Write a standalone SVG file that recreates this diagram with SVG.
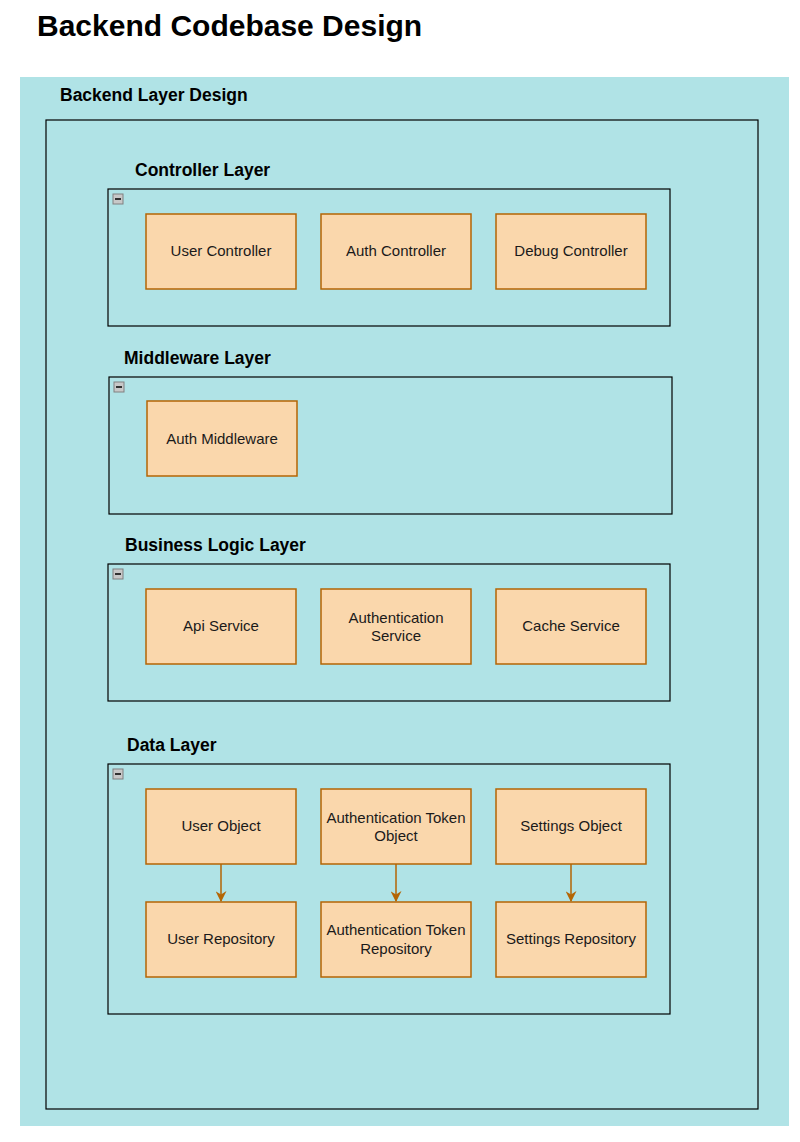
<svg xmlns="http://www.w3.org/2000/svg" width="800" height="1142" viewBox="0 0 800 1142">
<style>
.t{font-family:"Liberation Sans",Arial,sans-serif;fill:#000}
.h{font-weight:bold;font-size:17.5px}
.n rect{fill:#fad7ac;stroke:#b46504;stroke-width:1.5}
.n text{font-family:"Liberation Sans",Arial,sans-serif;font-size:15px;fill:#1a1a1a;text-anchor:middle}
.layer{fill:none;stroke:#000;stroke-width:1.2}
.icon{fill:#c8c8c8;stroke:#808080;stroke-width:1}
.conn path{stroke:#b46504;stroke-width:1.5;fill:none}
</style>
<defs>
<marker id="ah" viewBox="0 0 10 10" refX="9" refY="5" markerWidth="11" markerHeight="11" orient="auto" markerUnits="userSpaceOnUse">
<path d="M0,0 L10,5 L0,10 L3,5 Z" fill="#b46504"/>
</marker>
<g id="minus"><rect class="icon" x="0" y="0" width="10" height="10"/><line x1="2" y1="5" x2="8" y2="5" stroke="#000" stroke-width="1.5"/></g>
</defs>
<rect width="800" height="1142" fill="#fff"/>
<text class="t" x="37" y="36" font-size="30" font-weight="bold">Backend Codebase Design</text>
<g id="backend-layer-design">
<rect x="20" y="77" width="769" height="1049" fill="#b0e3e6"/>
<text class="t h" x="60" y="101">Backend Layer Design</text>
<rect x="46" y="120" width="712" height="989" fill="none" stroke="#000" stroke-width="1.2"/>
</g>
<g id="controller-layer">
<text class="t h" x="135" y="176">Controller Layer</text>
<rect class="layer" x="108" y="189" width="562" height="137"/>
<use href="#minus" x="113" y="194"/>
</g>
<g id="middleware-layer">
<text class="t h" x="124" y="364">Middleware Layer</text>
<rect class="layer" x="109" y="377" width="563" height="137"/>
<use href="#minus" x="114" y="382"/>
</g>
<g id="business-layer">
<text class="t h" x="125" y="551">Business Logic Layer</text>
<rect class="layer" x="108" y="564" width="562" height="137"/>
<use href="#minus" x="113" y="569"/>
</g>
<g id="data-layer">
<text class="t h" x="127" y="751">Data Layer</text>
<rect class="layer" x="108" y="764" width="562" height="250"/>
<use href="#minus" x="113" y="769"/>
</g>
<g id="user-controller" class="n"><rect x="146" y="214" width="150" height="75"/><text x="221" y="256">User Controller</text></g>
<g id="auth-controller" class="n"><rect x="321" y="214" width="150" height="75"/><text x="396" y="256">Auth Controller</text></g>
<g id="debug-controller" class="n"><rect x="496" y="214" width="150" height="75"/><text x="571" y="256">Debug Controller</text></g>
<g id="auth-middleware" class="n"><rect x="147" y="401" width="150" height="75"/><text x="222" y="444">Auth Middleware</text></g>
<g id="api-service" class="n"><rect x="146" y="589" width="150" height="75"/><text x="221" y="631">Api Service</text></g>
<g id="authentication-service" class="n"><rect x="321" y="589" width="150" height="75"/><text x="396" y="623">Authentication</text><text x="396" y="641">Service</text></g>
<g id="cache-service" class="n"><rect x="496" y="589" width="150" height="75"/><text x="571" y="631">Cache Service</text></g>
<g id="user-object" class="n"><rect x="146" y="789" width="150" height="75"/><text x="221" y="831">User Object</text></g>
<g id="auth-token-object" class="n"><rect x="321" y="789" width="150" height="75"/><text x="396" y="823">Authentication Token</text><text x="396" y="841">Object</text></g>
<g id="settings-object" class="n"><rect x="496" y="789" width="150" height="75"/><text x="571" y="831">Settings Object</text></g>
<g id="user-repository" class="n"><rect x="146" y="902" width="150" height="75"/><text x="221" y="944">User Repository</text></g>
<g id="auth-token-repository" class="n"><rect x="321" y="902" width="150" height="75"/><text x="396" y="935">Authentication Token</text><text x="396" y="954">Repository</text></g>
<g id="settings-repository" class="n"><rect x="496" y="902" width="150" height="75"/><text x="571" y="944">Settings Repository</text></g>
<g id="connectors" class="conn">
<path d="M221,864 L221,901" marker-end="url(#ah)"/>
<path d="M396,864 L396,901" marker-end="url(#ah)"/>
<path d="M571,864 L571,901" marker-end="url(#ah)"/>
</g>
</svg>
